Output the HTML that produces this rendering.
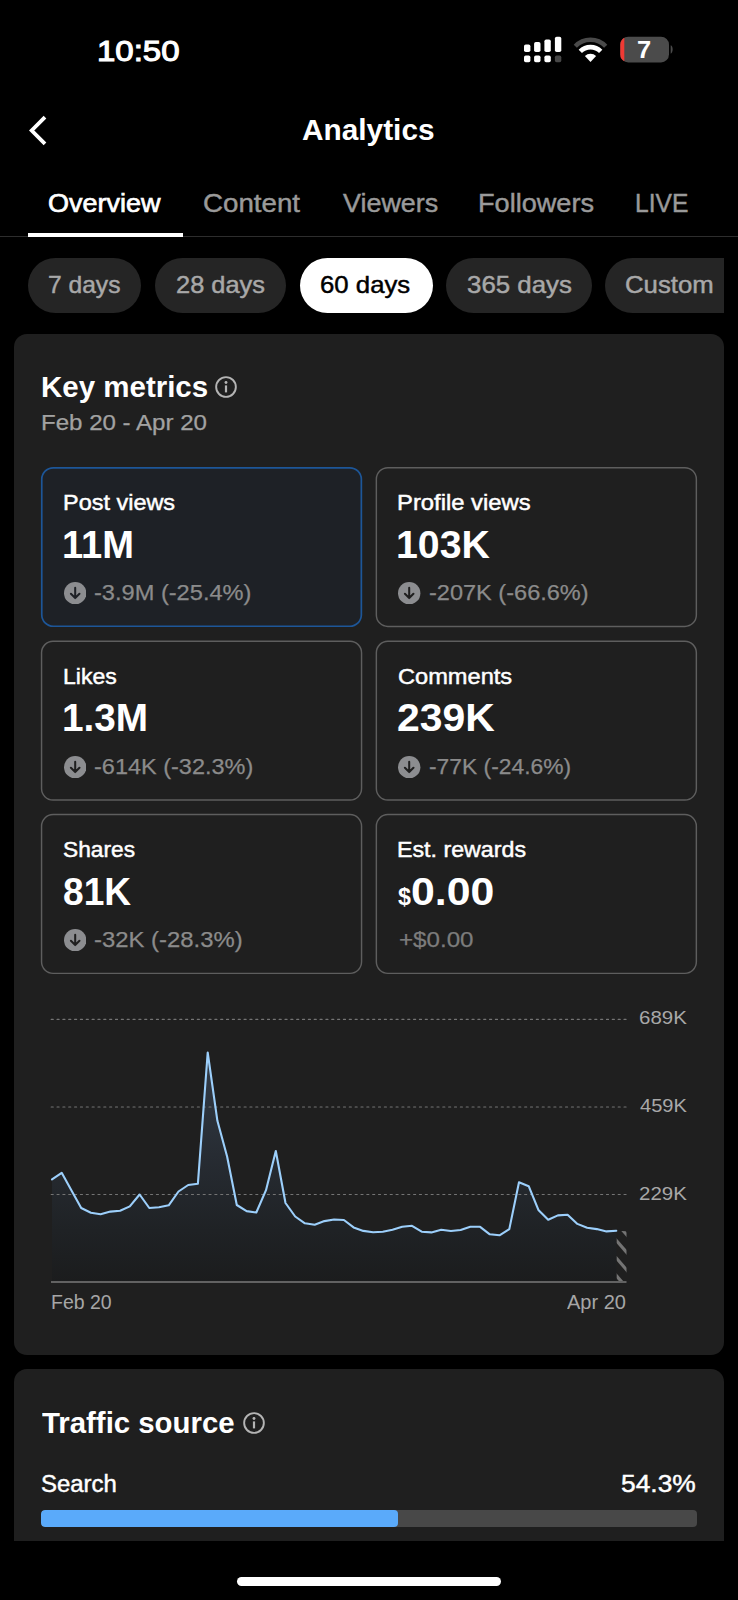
<!DOCTYPE html>
<html lang="en">
<head>
<meta charset="utf-8">
<title>Analytics</title>
<style>
*{box-sizing:border-box;margin:0;padding:0}
html,body{width:738px;height:1600px;background:#000;overflow:hidden}
body{position:relative;font-family:"Liberation Sans",sans-serif;color:#fff}
.abs{position:absolute}
.t{position:absolute;white-space:nowrap;line-height:1;transform-origin:0 0}
.pill{position:absolute;top:258px;height:55px;border-radius:28px;background:#252525}
.card{position:absolute;background:#1f1f1f;border-radius:13px}
.m{position:absolute;width:321.5px;height:160.2px;border:1.4px solid #565656;border-radius:12px}
.m.sel{border-color:#1e64b0;border-width:1.6px;background:#1e2126}
.ic{position:absolute;width:22.4px;height:22.4px}
.inf{position:absolute;width:24px;height:24px}
</style>
</head>
<body>
<!-- STATUS BAR ICONS -->
<svg class="abs" style="left:515px;top:30px" width="170" height="40" viewBox="0 0 170 40">
  <g fill="#fff">
    <rect x="9.0" y="14.4" width="6.4" height="7.6" rx="1.8"/>
    <rect x="19.1" y="11.9" width="6.4" height="10.1" rx="1.8"/>
    <rect x="29.4" y="9.4" width="6.4" height="12.6" rx="1.8"/>
    <rect x="39.9" y="6.7" width="6.4" height="15.3" rx="1.8"/>
    <rect x="9.0" y="25.6" width="6.4" height="6.6" rx="1.7"/>
    <rect x="19.1" y="25.6" width="6.4" height="6.6" rx="1.7"/>
    <rect x="29.4" y="25.6" width="6.4" height="6.6" rx="1.7"/>
  </g>
  <rect x="39.9" y="25.6" width="6.4" height="6.6" rx="1.7" fill="#474747"/>
  <!-- wifi -->
  <g transform="translate(-1.5 1.1)">
  <g fill="none" stroke-linecap="butt">
    <path d="M61.8 15.2 A21 21 0 0 1 92.2 15.2" stroke="#4a4a4a" stroke-width="4.4"/>
    <path d="M66.8 20.3 A14.2 14.2 0 0 1 87.2 20.3" stroke="#fff" stroke-width="4.6"/>
  </g>
  <path d="M77 30.8 L71.4 25 A7.8 7.8 0 0 1 82.6 25 Z" fill="#fff"/>
  </g>
  <!-- battery -->
  <rect x="105.3" y="6.7" width="48.7" height="25.7" rx="8" fill="#4b4b4b"/>
  <path d="M105.3 14.7 A8 8 0 0 1 109.3 7.8 L109.3 31.3 A8 8 0 0 1 105.3 24.4 Z" fill="#f03a34"/>
  <path d="M155.7 15.3 C158.3 16.1 158.3 22.9 155.7 23.7 Z" fill="#4b4b4b"/>
  <text x="129.2" y="27.6" text-anchor="middle" font-family="Liberation Sans, sans-serif" font-weight="bold" font-size="24" fill="#fff" transform="translate(129.2 0) scale(1.06 1) translate(-129.2 0)">7</text>
</svg>

<!-- NAV -->
<svg class="abs" style="left:24px;top:112px" width="30" height="36" viewBox="0 0 30 36"><path d="M21 5.2 L7.7 18.5 L21 31.8" fill="none" stroke="#fff" stroke-width="3.8" stroke-linecap="butt" stroke-linejoin="miter"/></svg>

<!-- TABS -->
<div class="abs" style="left:0;top:236px;width:738px;height:1px;background:#2d2d2d"></div>
<div class="abs" style="left:27.6px;top:233.3px;width:155px;height:3.7px;background:#fff"></div>

<!-- PILLS -->
<div class="pill" style="left:27.5px;width:113.5px"></div>
<div class="pill" style="left:155.3px;width:130.5px"></div>
<div class="pill" style="left:300.3px;width:132.3px;background:#fff"></div>
<div class="pill" style="left:446px;width:145.8px"></div>
<div class="abs" style="left:605px;top:258px;width:119px;height:55px;overflow:hidden"><div class="pill" style="left:0;top:0;width:160px"></div></div>

<!-- KEY METRICS CARD -->
<div class="card" style="left:13.6px;top:333.6px;width:710.4px;height:1021.6px"></div>
<svg class="inf" style="left:214.4px;top:374.9px" viewBox="0 0 24 24"><circle cx="12" cy="12" r="9.85" fill="none" stroke="#b4b4b4" stroke-width="1.9"/><rect x="10.9" y="10.4" width="2.2" height="7" fill="#b4b4b4"/><circle cx="12" cy="7.5" r="1.45" fill="#b4b4b4"/></svg>

<svg class="abs" style="left:0;top:460px" width="738" height="520" viewBox="0 460 738 520">
<rect x="41.75" y="467.85" width="319.60" height="158.40" rx="11.5" fill="#1e2126" stroke="#1d5698" stroke-width="1.7"/>
<rect x="376.35" y="467.65" width="320.00" height="158.80" rx="11.5" fill="none" stroke="#5e5e5e" stroke-width="1.45"/>
<rect x="41.55" y="641.25" width="320.00" height="158.80" rx="11.5" fill="none" stroke="#5e5e5e" stroke-width="1.45"/>
<rect x="376.35" y="641.25" width="320.00" height="158.80" rx="11.5" fill="none" stroke="#5e5e5e" stroke-width="1.45"/>
<rect x="41.55" y="814.55" width="320.00" height="158.80" rx="11.5" fill="none" stroke="#5e5e5e" stroke-width="1.45"/>
<rect x="376.35" y="814.55" width="320.00" height="158.80" rx="11.5" fill="none" stroke="#5e5e5e" stroke-width="1.45"/>
</svg>

<svg class="ic" style="left:63.7px;top:582.1px" viewBox="0 0 22 22"><circle cx="11" cy="11" r="11" fill="#8c8d90"/><path d="M11 5.6V15.6M6.8 11.6L11 15.8L15.200 11.6" fill="none" stroke="#1e2126" stroke-width="2" stroke-linecap="round" stroke-linejoin="round"/></svg>
<svg class="ic" style="left:398.4px;top:582.1px" viewBox="0 0 22 22"><circle cx="11" cy="11" r="11" fill="#8c8d90"/><path d="M11 5.6V15.6M6.8 11.6L11 15.8L15.200 11.6" fill="none" stroke="#1f1f1f" stroke-width="2" stroke-linecap="round" stroke-linejoin="round"/></svg>
<svg class="ic" style="left:63.7px;top:755.7px" viewBox="0 0 22 22"><circle cx="11" cy="11" r="11" fill="#8c8d90"/><path d="M11 5.6V15.6M6.8 11.6L11 15.8L15.200 11.6" fill="none" stroke="#1f1f1f" stroke-width="2" stroke-linecap="round" stroke-linejoin="round"/></svg>
<svg class="ic" style="left:398.4px;top:755.7px" viewBox="0 0 22 22"><circle cx="11" cy="11" r="11" fill="#8c8d90"/><path d="M11 5.6V15.6M6.8 11.6L11 15.8L15.200 11.6" fill="none" stroke="#1f1f1f" stroke-width="2" stroke-linecap="round" stroke-linejoin="round"/></svg>
<svg class="ic" style="left:63.7px;top:929.1px" viewBox="0 0 22 22"><circle cx="11" cy="11" r="11" fill="#8c8d90"/><path d="M11 5.6V15.6M6.8 11.6L11 15.8L15.200 11.6" fill="none" stroke="#1f1f1f" stroke-width="2" stroke-linecap="round" stroke-linejoin="round"/></svg>

<svg class="abs" style="left:0;top:1000px" width="738" height="300" viewBox="0 1000 738 300">
<defs>
<linearGradient id="ag" x1="0" y1="1050" x2="0" y2="1282" gradientUnits="userSpaceOnUse"><stop offset="0" stop-color="#343d49"/><stop offset="0.45" stop-color="#272c33"/><stop offset="0.78" stop-color="#1f2225"/><stop offset="1" stop-color="#1b1c1d"/></linearGradient>
<clipPath id="hc"><path d="M616.7 1230.7 L626.5 1231.2 L626.5 1282 L616.7 1282 Z"/></clipPath>
</defs>
<path d="M52.0 1179.3 L61.7 1172.8 L71.5 1190.4 L81.2 1208.0 L90.9 1212.7 L100.6 1214.3 L110.4 1211.6 L120.1 1210.8 L129.8 1206.4 L139.6 1194.5 L149.3 1208.0 L159.0 1207.2 L168.7 1205.3 L178.5 1191.5 L188.2 1185.0 L197.9 1183.7 L207.7 1052.5 L217.4 1120.8 L227.1 1156.5 L236.8 1205.0 L246.6 1211.1 L256.3 1212.5 L266.0 1190.2 L275.8 1151.0 L285.5 1203.0 L295.2 1216.5 L304.9 1223.3 L314.7 1224.7 L324.4 1221.1 L334.1 1219.5 L343.9 1220.0 L353.6 1227.4 L363.3 1230.9 L373.1 1232.2 L382.8 1231.7 L392.5 1229.8 L402.2 1226.8 L412.0 1225.8 L421.7 1231.7 L431.4 1232.4 L441.2 1229.8 L450.9 1231.0 L460.6 1230.0 L470.3 1226.8 L480.1 1226.8 L489.8 1234.3 L499.5 1235.3 L509.3 1229.1 L519.0 1182.3 L528.7 1186.2 L538.4 1209.9 L548.2 1219.7 L557.9 1215.4 L567.6 1214.8 L577.4 1223.9 L587.1 1227.8 L596.8 1229.1 L606.5 1231.4 L616.3 1230.7 L616.3 1282 L52 1282 Z" fill="url(#ag)"/>
<g stroke="#747474" stroke-width="1.15" stroke-dasharray="2.05 3.795" stroke-linecap="round" fill="none"><path d="M51.2 1019.4H626.4"/><path d="M51.2 1107H626.4"/><path d="M51.2 1194.5H626.4"/></g>
<g clip-path="url(#hc)" stroke="#747474" stroke-width="3.2"><path d="M612.8 1218.8 L630.8 1239.5"/><path d="M612.8 1236.4 L630.8 1257.1"/><path d="M612.8 1254 L630.8 1274.7"/><path d="M612.8 1271.6 L630.8 1292.3"/></g>
<path d="M52.0 1179.3 L61.7 1172.8 L71.5 1190.4 L81.2 1208.0 L90.9 1212.7 L100.6 1214.3 L110.4 1211.6 L120.1 1210.8 L129.8 1206.4 L139.6 1194.5 L149.3 1208.0 L159.0 1207.2 L168.7 1205.3 L178.5 1191.5 L188.2 1185.0 L197.9 1183.7 L207.7 1052.5 L217.4 1120.8 L227.1 1156.5 L236.8 1205.0 L246.6 1211.1 L256.3 1212.5 L266.0 1190.2 L275.8 1151.0 L285.5 1203.0 L295.2 1216.5 L304.9 1223.3 L314.7 1224.7 L324.4 1221.1 L334.1 1219.5 L343.9 1220.0 L353.6 1227.4 L363.3 1230.9 L373.1 1232.2 L382.8 1231.7 L392.5 1229.8 L402.2 1226.8 L412.0 1225.8 L421.7 1231.7 L431.4 1232.4 L441.2 1229.8 L450.9 1231.0 L460.6 1230.0 L470.3 1226.8 L480.1 1226.8 L489.8 1234.3 L499.5 1235.3 L509.3 1229.1 L519.0 1182.3 L528.7 1186.2 L538.4 1209.9 L548.2 1219.7 L557.9 1215.4 L567.6 1214.8 L577.4 1223.9 L587.1 1227.8 L596.8 1229.1 L606.5 1231.4 L616.3 1230.7" fill="none" stroke="#9ccffb" stroke-width="2.1" stroke-linejoin="round" stroke-linecap="round"/>
<path d="M51 1282H626.5" stroke="#626262" stroke-width="2.1"/>
</svg>

<!-- TRAFFIC CARD -->
<div class="card" style="left:13.6px;top:1369px;width:710.4px;height:172px;border-radius:13px 13px 0 0"></div>
<svg class="inf" style="left:241.8px;top:1410.8px" viewBox="0 0 24 24"><circle cx="12" cy="12" r="9.85" fill="none" stroke="#b4b4b4" stroke-width="1.9"/><rect x="10.9" y="10.4" width="2.2" height="7" fill="#b4b4b4"/><circle cx="12" cy="7.5" r="1.45" fill="#b4b4b4"/></svg>
<div class="abs" style="left:40.6px;top:1509.5px;width:656.7px;height:17px;border-radius:4px;background:#484848;overflow:hidden"><div style="width:357px;height:17px;border-radius:4px;background:#5aaafa"></div></div>

<!-- HOME INDICATOR -->
<div class="abs" style="left:236.6px;top:1577.0px;width:264.6px;height:9px;border-radius:4.5px;background:#fff"></div>

<div id="time" class="t" style="left:96.78px;top:35.72px;font-size:30.10px;color:#fff;transform:scaleX(1.0962);-webkit-text-stroke:1.1px #fff">10:50</div>
<div id="title" class="t" style="left:302.49px;top:116.26px;font-size:28.63px;color:#fff;transform:scaleX(1.0415);font-weight:bold">Analytics</div>
<div id="tab1" class="t" style="left:47.82px;top:190.04px;font-size:26.31px;color:#fff;transform:scaleX(1.0256);-webkit-text-stroke:0.7px #fff">Overview</div>
<div id="tab2" class="t" style="left:202.59px;top:190.04px;font-size:26.31px;color:#9a9a9a;transform:scaleX(1.0538);-webkit-text-stroke:0.45px #9a9a9a">Content</div>
<div id="tab3" class="t" style="left:342.50px;top:190.04px;font-size:26.31px;color:#9a9a9a;transform:scaleX(1.0235);-webkit-text-stroke:0.45px #9a9a9a">Viewers</div>
<div id="tab4" class="t" style="left:478.42px;top:190.04px;font-size:26.31px;color:#9a9a9a;transform:scaleX(1.0312);-webkit-text-stroke:0.45px #9a9a9a">Followers</div>
<div id="tab5" class="t" style="left:634.72px;top:190.04px;font-size:26.31px;color:#9a9a9a;transform:scaleX(0.9356);-webkit-text-stroke:0.45px #9a9a9a">LIVE</div>
<div id="p1" class="t" style="left:47.70px;top:273.40px;font-size:24.00px;color:#a8a8a8;transform:scaleX(1.0244);-webkit-text-stroke:0.45px #a8a8a8">7 days</div>
<div id="p2" class="t" style="left:175.91px;top:273.40px;font-size:24.00px;color:#a8a8a8;transform:scaleX(1.0584);-webkit-text-stroke:0.45px #a8a8a8">28 days</div>
<div id="p3" class="t" style="left:320.45px;top:273.40px;font-size:24.00px;color:#000;transform:scaleX(1.0737);-webkit-text-stroke:0.45px #000">60 days</div>
<div id="p4" class="t" style="left:466.50px;top:273.40px;font-size:24.00px;color:#a8a8a8;transform:scaleX(1.0772);-webkit-text-stroke:0.45px #a8a8a8">365 days</div>
<div id="p5" class="t" style="left:625.01px;top:273.40px;font-size:24.00px;color:#a8a8a8;transform:scaleX(1.0719);-webkit-text-stroke:0.45px #a8a8a8">Custom</div>
<div id="km" class="t" style="left:40.74px;top:373.17px;font-size:29.22px;color:#fff;transform:scaleX(1.0090);font-weight:bold">Key metrics</div>
<div id="kms" class="t" style="left:40.57px;top:412.74px;font-size:21.37px;color:#a2a2a2;transform:scaleX(1.1268);-webkit-text-stroke:0.25px #a2a2a2">Feb 20 - Apr 20</div>
<div id="c1l" class="t" style="left:62.70px;top:492.39px;font-size:21.66px;color:#fff;transform:scaleX(1.0829);-webkit-text-stroke:0.45px #fff">Post views</div>
<div id="c1v" class="t" style="left:62.47px;top:525.63px;font-size:38.08px;color:#fff;transform:scaleX(0.9997);font-weight:bold">11M</div>
<div id="c1d" class="t" style="left:93.99px;top:581.86px;font-size:22.29px;color:#8b8b8b;transform:scaleX(1.0595);-webkit-text-stroke:0.25px #8b8b8b">-3.9M (-25.4%)</div>
<div id="c2l" class="t" style="left:396.64px;top:492.39px;font-size:21.66px;color:#fff;transform:scaleX(1.0995);-webkit-text-stroke:0.45px #fff">Profile views</div>
<div id="c2v" class="t" style="left:396.25px;top:525.63px;font-size:38.08px;color:#fff;transform:scaleX(1.0312);font-weight:bold">103K</div>
<div id="c2d" class="t" style="left:428.59px;top:581.86px;font-size:22.29px;color:#8b8b8b;transform:scaleX(1.0567);-webkit-text-stroke:0.25px #8b8b8b">-207K (-66.6%)</div>
<div id="c3l" class="t" style="left:62.74px;top:665.59px;font-size:21.66px;color:#fff;transform:scaleX(1.0628);-webkit-text-stroke:0.45px #fff">Likes</div>
<div id="c3v" class="t" style="left:61.84px;top:699.43px;font-size:38.08px;color:#fff;transform:scaleX(1.0173);font-weight:bold">1.3M</div>
<div id="c3d" class="t" style="left:93.99px;top:756.06px;font-size:22.29px;color:#8b8b8b;transform:scaleX(1.0543);-webkit-text-stroke:0.25px #8b8b8b">-614K (-32.3%)</div>
<div id="c4l" class="t" style="left:397.60px;top:665.59px;font-size:21.66px;color:#fff;transform:scaleX(1.0904);-webkit-text-stroke:0.45px #fff">Comments</div>
<div id="c4v" class="t" style="left:397.15px;top:699.43px;font-size:38.08px;color:#fff;transform:scaleX(1.0745);font-weight:bold">239K</div>
<div id="c4d" class="t" style="left:429.01px;top:756.06px;font-size:22.29px;color:#8b8b8b;transform:scaleX(1.0249);-webkit-text-stroke:0.25px #8b8b8b">-77K (-24.6%)</div>
<div id="c5l" class="t" style="left:63.02px;top:839.39px;font-size:21.66px;color:#fff;transform:scaleX(1.0491);-webkit-text-stroke:0.45px #fff">Shares</div>
<div id="c5v" class="t" style="left:62.65px;top:872.63px;font-size:38.08px;color:#fff;transform:scaleX(0.9741);font-weight:bold">81K</div>
<div id="c5d" class="t" style="left:93.98px;top:928.86px;font-size:22.29px;color:#8b8b8b;transform:scaleX(1.0717);-webkit-text-stroke:0.25px #8b8b8b">-32K (-28.3%)</div>
<div id="c6l" class="t" style="left:396.99px;top:839.39px;font-size:21.66px;color:#fff;transform:scaleX(1.0721);-webkit-text-stroke:0.45px #fff">Est. rewards</div>
<div id="c6s" class="t" style="left:398.32px;top:884.52px;font-size:24.56px;color:#fff;transform:scaleX(0.9459);font-weight:bold">$</div>
<div id="c6v" class="t" style="left:411.41px;top:872.58px;font-size:38.37px;color:#fff;transform:scaleX(1.1153);font-weight:bold">0.00</div>
<div id="c6d" class="t" style="left:398.95px;top:928.81px;font-size:22.57px;color:#7c7c7c;transform:scaleX(1.0702);-webkit-text-stroke:0.25px #7c7c7c">+$0.00</div>
<div id="y1" class="t" style="left:639.02px;top:1008.45px;font-size:19.00px;color:#a8a8a8;transform:scaleX(1.0767)">689K</div>
<div id="y2" class="t" style="left:639.53px;top:1095.85px;font-size:19.00px;color:#a8a8a8;transform:scaleX(1.0544)">459K</div>
<div id="y3" class="t" style="left:639.02px;top:1183.65px;font-size:19.00px;color:#a8a8a8;transform:scaleX(1.0767)">229K</div>
<div id="xa" class="t" style="left:51.13px;top:1292.57px;font-size:19.33px;color:#a6a6a6;transform:scaleX(1.0085)">Feb 20</div>
<div id="xb" class="t" style="left:567.09px;top:1292.57px;font-size:19.33px;color:#a6a6a6;transform:scaleX(1.0347)">Apr 20</div>
<div id="ts" class="t" style="left:42.47px;top:1408.34px;font-size:29.36px;color:#fff;transform:scaleX(1.0002);font-weight:bold">Traffic source</div>
<div id="se" class="t" style="left:41.40px;top:1472.24px;font-size:24.42px;color:#fff;transform:scaleX(0.9810);-webkit-text-stroke:0.45px #fff">Search</div>
<div id="pc" class="t" style="left:620.89px;top:1471.66px;font-size:24.29px;color:#fff;transform:scaleX(1.0860);-webkit-text-stroke:0.45px #fff">54.3%</div>
</body>
</html>
